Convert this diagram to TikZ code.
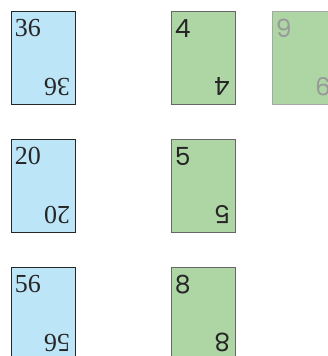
\documentclass[tikz,border=0pt]{standalone}
\usepackage{fontspec}
\newfontfamily\cardserif{Liberation Serif}
\newfontfamily\cardsans{Poppins}
\definecolor{cardblue}{HTML}{BDE5F8}
\definecolor{cardgreen}{HTML}{AED6A4}

\begin{document}
\begin{tikzpicture}[x=1pt,y=1pt,
 card/.style={draw,line width=0.8pt,minimum width=64pt,minimum height=93pt,inner sep=0pt},
 bluecard/.style={card,draw=black!85,fill=cardblue},
 greencard/.style={card,draw=black!60,fill=cardgreen},
 fadedcard/.style={card,draw=black!35,fill=cardgreen},
 corner/.style={inner sep=0pt,anchor=base west},
 serifnum/.style={corner,font=\cardserif\fontsize{26}{26}\selectfont,text=black!85},
 sansnum/.style={corner,font=\cardsans\fontsize{25}{25}\selectfont,text=black!85}]
\clip (0,0) rectangle (328,-356);
% blue cards
\foreach \n/\y in {36/-57.5,20/-185.5,56/-313.5}{
 \node[bluecard] (b\n) at (43,\y) {};
 \node[serifnum] at ([shift={(4,-26)}]b\n.north west) {\n};
 \node[serifnum,rotate=180] at ([shift={(-5,26)}]b\n.south east) {\n};
}
% green cards
\foreach \n/\y in {4/-57.5,5/-185.5,8/-313.5}{
 \node[greencard] (g\n) at (203,\y) {};
 \node[sansnum] at ([shift={(4,-27)}]g\n.north west) {\n};
 \node[sansnum,rotate=180] at ([shift={(-5,27)}]g\n.south east) {\n};
}
% faded card, cut off at the edge
\node[fadedcard] (g9) at (304,-57.5) {};
\node[sansnum,text=black!40] at ([shift={(4,-27)}]g9.north west) {9};
\node[sansnum,text=black!40,rotate=180] at ([shift={(-5,27)}]g9.south east) {9};
\end{tikzpicture}
\end{document}
